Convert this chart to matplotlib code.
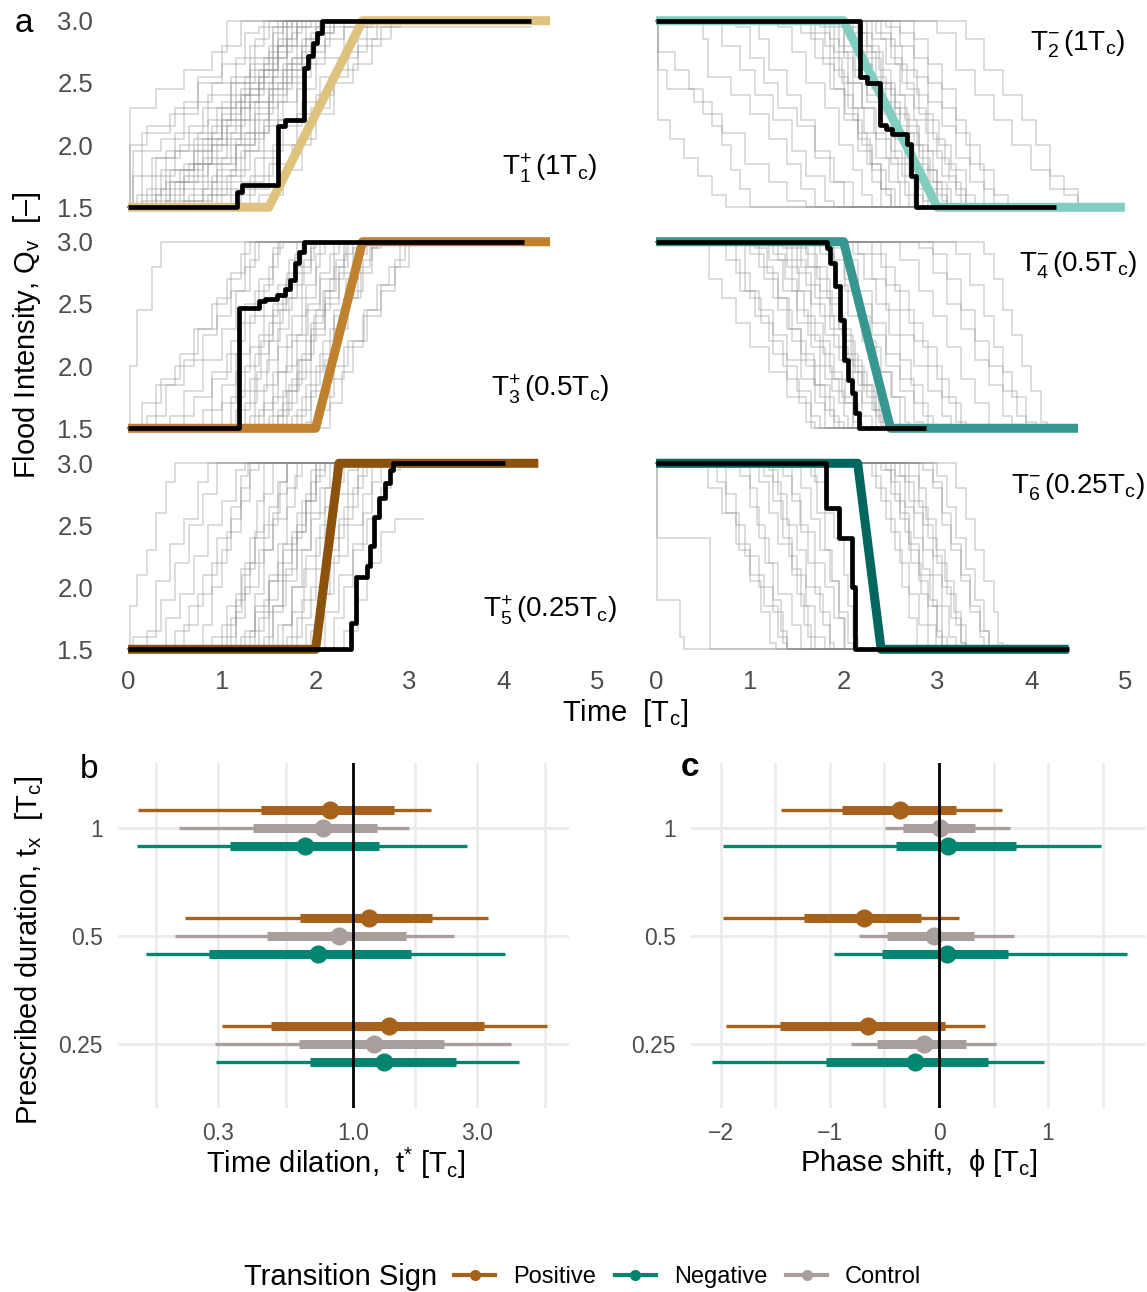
import matplotlib
matplotlib.use('Agg')
import matplotlib.pyplot as plt
from matplotlib.lines import Line2D
import numpy as np

plt.rcParams['font.family'] = ['Liberation Sans', 'DejaVu Sans']
plt.rcParams['mathtext.fontset'] = 'custom'
plt.rcParams['mathtext.rm'] = 'Liberation Sans'
plt.rcParams['mathtext.it'] = 'Liberation Sans:italic'
plt.rcParams['mathtext.bf'] = 'Liberation Sans:bold'
plt.rcParams['mathtext.sf'] = 'Liberation Sans'

# ---------------- data: panel a ----------------
ramp_T1 = [(0, 1.5), (1.5, 1.5), (2.5, 3.0), (4.5, 3.0)]
ramp_T2 = [(0, 3.0), (2.0, 3.0), (3.0, 1.5), (5.0, 1.5)]
ramp_T3 = [(0, 1.5), (2.0, 1.5), (2.5, 3.0), (4.5, 3.0)]
ramp_T4 = [(0, 3.0), (2.0, 3.0), (2.5, 1.5), (4.5, 1.5)]
ramp_T5 = [(0, 1.5), (2.0, 1.5), (2.25, 3.0), (4.375, 3.0)]
ramp_T6 = [(0, 3.0), (2.15, 3.0), (2.4, 1.5), (4.4, 1.5)]

black_T1 = [(0, 1.5), (1.16, 1.62), (1.22, 1.68), (1.60, 2.15), (1.67, 2.20), (1.88, 2.62),
            (1.92, 2.72), (1.97, 2.82), (2.02, 2.90), (2.07, 3.0), (4.3, 3.0)]
black_T2 = [(0, 3.0), (2.17, 2.55), (2.25, 2.50), (2.39, 2.16), (2.45, 2.13), (2.52, 2.09),
            (2.68, 2.01), (2.72, 1.75), (2.77, 1.5), (4.26, 1.5)]
black_T3 = [(0, 1.5), (1.185, 2.47), (1.40, 2.52), (1.46, 2.54), (1.59, 2.57), (1.67, 2.62),
            (1.73, 2.69), (1.78, 2.83), (1.82, 2.92), (1.88, 3.0), (4.22, 3.0)]
black_T4 = [(0, 3.0), (1.82, 2.95), (1.86, 2.83), (1.91, 2.64), (1.96, 2.37), (2.0, 2.05),
            (2.05, 1.89), (2.09, 1.78), (2.12, 1.62), (2.16, 1.5), (2.88, 1.5)]
black_T5 = [(0, 1.5), (2.38, 1.71), (2.43, 2.08), (2.55, 2.17), (2.58, 2.33), (2.62, 2.57),
            (2.68, 2.72), (2.74, 2.84), (2.79, 2.95), (2.83, 3.0), (4.02, 3.0)]
black_T6 = [(0, 3.0), (1.81, 2.64), (1.95, 2.40), (2.09, 2.0), (2.12, 1.5), (4.40, 1.5)]

grey_T1 = [
    [(0, 1.5), (0.02, 2.3), (0.3, 2.45), (0.6, 2.6), (0.9, 2.75), (1.05, 3.0), (2.4, 3.0)],
    [(0, 1.5), (0.05, 1.75), (0.25, 1.9), (0.5, 2.1), (0.8, 2.3), (1.1, 2.55), (1.3, 2.8), (1.45, 3.0), (2.5, 3.0)],
    [(0, 1.5), (0.3, 1.6), (0.6, 1.85), (0.9, 2.0), (1.2, 2.3), (1.4, 2.6), (1.6, 2.85), (1.75, 3.0), (2.95, 3.0)],
    [(0, 1.5), (0.5, 1.7), (0.75, 1.95), (1.0, 2.2), (1.3, 2.45), (1.55, 2.6), (1.7, 2.8), (1.9, 3.0), (2.7, 3.0)],
    [(0, 1.5), (0.15, 2.1), (0.45, 2.25), (0.75, 2.5), (1.0, 2.65), (1.25, 2.9), (1.4, 2.95), (4.3, 2.95)],
    [(0, 1.5), (0.8, 1.65), (1.1, 1.8), (1.3, 2.1), (1.5, 2.35), (1.7, 2.6), (1.85, 2.75), (2.0, 2.9), (2.2, 3.0), (2.85, 3.0)],
    [(0, 1.5), (1.0, 1.6), (1.35, 1.9), (1.6, 2.2), (1.8, 2.45), (2.0, 2.7), (2.3, 2.95), (2.6, 3.0), (2.95, 3.0)],
    [(0, 1.5), (0.2, 1.65), (0.4, 1.95), (0.65, 2.15), (0.85, 2.4), (1.1, 2.5), (1.35, 2.7), (1.55, 2.9), (1.65, 3.0), (2.6, 3.0)],
    [(0, 1.5), (0.6, 1.55), (0.9, 1.75), (1.15, 2.05), (1.45, 2.2), (1.65, 2.5), (1.9, 2.65), (2.1, 2.85), (2.3, 3.0), (2.7, 3.0)],
    [(0, 1.5), (0.1, 1.6), (0.35, 1.8), (0.7, 1.85), (0.95, 2.05), (1.2, 2.45), (1.45, 2.7), (1.7, 3.0), (2.45, 3.0)],
    [(0, 1.5), (0.45, 1.8), (0.7, 2.05), (1.0, 2.35), (1.25, 2.55), (1.5, 2.75), (1.6, 3.0), (2.55, 3.0)],
    [(0, 1.5), (0.9, 1.7), (1.2, 1.95), (1.4, 2.3), (1.6, 2.5), (1.75, 2.7), (1.9, 2.85), (2.05, 3.0), (2.75, 3.0)],
    [(0, 1.5), (0.05, 1.95), (0.35, 2.05), (0.6, 2.35), (0.9, 2.5), (1.15, 2.7), (1.35, 2.85), (1.5, 3.0), (2.35, 3.0)],
    [(0, 1.5), (1.3, 1.75), (1.55, 2.0), (1.8, 2.25), (2.0, 2.4), (2.2, 2.6), (2.45, 2.8), (2.7, 2.95), (2.9, 3.0)],
    [(0, 1.5), (0.65, 1.6), (1.0, 1.9), (1.25, 2.1), (1.5, 2.4), (1.7, 2.65), (1.95, 2.8), (2.15, 3.0), (2.65, 3.0)],
    [(0, 1.5), (0.3, 1.9), (0.55, 2.0), (0.85, 2.2), (1.1, 2.4), (1.3, 2.6), (1.55, 2.95), (1.65, 3.0), (2.5, 3.0)],
    [(0, 1.5), (1.1, 1.65), (1.5, 1.85), (1.75, 2.0), (1.95, 2.3), (2.15, 2.55), (2.35, 2.75), (2.55, 3.0), (2.95, 3.0)],
    [(0, 1.5), (0.4, 1.55), (0.8, 1.9), (1.05, 2.2), (1.35, 2.35), (1.55, 2.55), (1.8, 2.95), (1.95, 3.0), (2.4, 3.0)],
    [(0, 1.5), (0.7, 1.7), (0.95, 1.85), (1.15, 2.0), (1.35, 2.25), (1.55, 2.45), (1.75, 2.7), (1.95, 2.9), (2.05, 3.0), (2.6, 3.0)],
    [(0, 1.5), (0.35, 1.65), (0.55, 1.8), (0.8, 2.05), (1.0, 2.25), (1.2, 2.4), (1.4, 2.55), (1.6, 2.75), (1.75, 2.9), (1.85, 3.0), (2.5, 3.0)],
    [(0, 1.5), (0.25, 1.75), (0.5, 1.95), (0.75, 2.1), (0.95, 2.3), (1.15, 2.5), (1.3, 2.65), (1.5, 2.8), (1.65, 2.95), (1.75, 3.0), (2.7, 3.0)],
    [(0, 1.5), (0.85, 1.6), (1.05, 1.75), (1.25, 1.95), (1.45, 2.15), (1.6, 2.35), (1.8, 2.55), (1.95, 2.75), (2.1, 2.9), (2.2, 3.0), (2.9, 3.0)],
    [(0, 1.5), (0.55, 1.65), (0.85, 1.85), (1.1, 2.1), (1.3, 2.35), (1.5, 2.5), (1.65, 2.65), (1.85, 2.85), (2.0, 3.0), (2.8, 3.0)],
    [(0, 1.5), (0.15, 1.55), (0.45, 1.7), (0.7, 1.95), (0.9, 2.15), (1.1, 2.3), (1.3, 2.5), (1.45, 2.65), (1.6, 2.8), (1.7, 3.0), (2.3, 3.0)],
    [(0, 1.5), (1.2, 1.7), (1.45, 1.95), (1.65, 2.15), (1.85, 2.35), (2.05, 2.55), (2.25, 2.7), (2.45, 2.85), (2.65, 3.0), (2.95, 3.0)],
    [(0, 1.5), (0.95, 1.8), (1.15, 2.0), (1.35, 2.2), (1.5, 2.45), (1.65, 2.6), (1.85, 2.8), (2.0, 2.95), (2.1, 3.0), (2.55, 3.0)],
    [(0, 1.5), (0.02, 2.0), (0.2, 2.15), (0.5, 2.3), (0.75, 2.55), (1.0, 2.8), (1.2, 3.0), (2.2, 3.0)],
    [(0, 1.5), (0.6, 1.75), (0.85, 2.0), (1.05, 2.15), (1.25, 2.4), (1.45, 2.6), (1.6, 2.8), (1.8, 3.0), (2.75, 3.0)],
    [(0, 1.5), (1.4, 1.6), (1.65, 1.8), (1.85, 2.05), (2.0, 2.25), (2.2, 2.5), (2.4, 2.65), (2.6, 2.85), (2.8, 3.0), (2.95, 3.0)],
    [(0, 1.5), (0.4, 1.7), (0.65, 1.85), (0.9, 2.1), (1.15, 2.35), (1.4, 2.5), (1.55, 2.7), (1.7, 2.85), (1.8, 3.0), (2.6, 3.0)],
]
grey_T2 = [
    [(0, 3.0), (0.02, 2.6), (0.12, 2.45), (0.4, 2.35), (0.6, 2.15), (0.7, 2.0), (0.8, 1.8), (0.9, 1.65), (1.0, 1.5), (3.8, 1.5)],
    [(0, 3.0), (0.02, 2.2), (0.15, 2.05), (0.3, 1.9), (0.45, 1.75), (0.6, 1.6), (0.75, 1.5), (2.8, 1.5)],
    [(0, 3.0), (0.5, 2.85), (0.55, 2.55), (0.8, 2.4), (1.0, 2.25), (1.2, 2.05), (1.4, 1.85), (1.55, 1.65), (1.7, 1.5), (4.9, 1.5)],
    [(0, 3.0), (1.1, 2.85), (1.2, 2.6), (1.4, 2.4), (1.55, 2.2), (1.7, 1.95), (1.85, 1.7), (2.0, 1.5), (4.5, 1.5)],
    [(0, 3.0), (1.55, 2.9), (1.7, 2.7), (1.85, 2.45), (2.0, 2.2), (2.15, 1.95), (2.3, 1.7), (2.4, 1.5), (4.2, 1.5)],
    [(0, 3.0), (1.75, 2.95), (1.9, 2.75), (2.05, 2.5), (2.2, 2.3), (2.35, 2.05), (2.5, 1.85), (2.65, 1.6), (2.75, 1.5), (4.7, 1.5)],
    [(0, 3.0), (1.95, 2.8), (2.1, 2.6), (2.25, 2.4), (2.4, 2.15), (2.55, 1.9), (2.7, 1.75), (2.85, 1.55), (2.95, 1.5), (4.8, 1.5)],
    [(0, 3.0), (2.1, 2.9), (2.25, 2.7), (2.4, 2.45), (2.55, 2.25), (2.7, 2.0), (2.85, 1.8), (3.0, 1.6), (3.1, 1.5), (4.6, 1.5)],
    [(0, 3.0), (2.3, 2.85), (2.45, 2.65), (2.6, 2.4), (2.75, 2.2), (2.9, 1.95), (3.05, 1.75), (3.2, 1.6), (3.3, 1.5), (4.9, 1.5)],
    [(0, 3.0), (2.6, 2.9), (2.75, 2.7), (2.9, 2.5), (3.05, 2.3), (3.2, 2.1), (3.35, 1.85), (3.5, 1.65), (3.6, 1.5), (4.85, 1.5)],
    [(0, 3.0), (3.0, 2.9), (3.2, 2.6), (3.4, 2.4), (3.6, 2.2), (3.8, 2.0), (4.0, 1.8), (4.2, 1.65), (4.5, 1.5), (4.9, 1.5)],
    [(0, 3.0), (3.3, 2.85), (3.5, 2.6), (3.7, 2.4), (3.9, 2.2), (4.05, 2.0), (4.2, 1.75), (4.35, 1.6), (4.5, 1.5), (4.95, 1.5)],
    [(0, 3.0), (0.85, 2.95), (1.0, 2.7), (1.15, 2.5), (1.3, 2.3), (1.5, 2.15), (1.7, 1.9), (1.9, 1.7), (2.1, 1.5), (4.0, 1.5)],
    [(0, 3.0), (1.85, 2.85), (1.95, 2.55), (2.05, 2.3), (2.15, 2.1), (2.25, 1.85), (2.4, 1.65), (2.55, 1.5), (4.4, 1.5)],
    [(0, 3.0), (2.0, 2.95), (2.15, 2.8), (2.3, 2.55), (2.45, 2.35), (2.6, 2.15), (2.8, 1.95), (2.95, 1.7), (3.1, 1.5), (4.3, 1.5)],
    [(0, 3.0), (2.2, 2.75), (2.35, 2.5), (2.5, 2.3), (2.6, 2.1), (2.75, 1.85), (2.9, 1.65), (3.0, 1.5), (4.75, 1.5)],
    [(0, 3.0), (2.45, 2.95), (2.6, 2.8), (2.75, 2.55), (2.9, 2.35), (3.05, 2.15), (3.2, 1.9), (3.35, 1.7), (3.5, 1.5), (4.5, 1.5)],
    [(0, 3.0), (0.02, 2.75), (0.2, 2.6), (0.35, 2.45), (0.5, 2.25), (0.7, 2.1), (0.95, 1.85), (1.2, 1.7), (1.4, 1.55), (1.6, 1.5), (3.3, 1.5)],
    [(0, 3.0), (1.3, 2.95), (1.45, 2.75), (1.6, 2.5), (1.8, 2.3), (1.95, 2.0), (2.1, 1.8), (2.2, 1.6), (2.3, 1.5), (4.65, 1.5)],
    [(0, 3.0), (2.75, 2.85), (2.9, 2.65), (3.05, 2.45), (3.2, 2.2), (3.3, 2.0), (3.45, 1.8), (3.6, 1.6), (3.75, 1.5), (4.9, 1.5)],
    [(0, 3.0), (1.8, 2.8), (1.9, 2.6), (2.0, 2.4), (2.1, 2.2), (2.2, 2.0), (2.3, 1.8), (2.45, 1.6), (2.5, 1.5), (4.6, 1.5)],
    [(0, 3.0), (1.9, 2.95), (2.0, 2.75), (2.12, 2.55), (2.25, 2.35), (2.38, 2.15), (2.5, 1.95), (2.62, 1.75), (2.75, 1.6), (2.85, 1.5), (4.85, 1.5)],
    [(0, 3.0), (2.05, 2.85), (2.18, 2.65), (2.3, 2.45), (2.42, 2.25), (2.55, 2.05), (2.65, 1.85), (2.8, 1.65), (2.9, 1.5), (4.7, 1.5)],
    [(0, 3.0), (2.15, 2.9), (2.3, 2.75), (2.42, 2.5), (2.55, 2.3), (2.68, 2.1), (2.8, 1.9), (2.92, 1.7), (3.05, 1.55), (3.1, 1.5), (4.9, 1.5)],
    [(0, 3.0), (2.25, 2.8), (2.38, 2.6), (2.5, 2.4), (2.65, 2.2), (2.78, 2.0), (2.9, 1.8), (3.0, 1.65), (3.15, 1.5), (4.8, 1.5)],
    [(0, 3.0), (2.35, 2.9), (2.5, 2.7), (2.62, 2.5), (2.75, 2.3), (2.88, 2.1), (3.0, 1.9), (3.12, 1.7), (3.25, 1.5), (4.9, 1.5)],
    [(0, 3.0), (2.5, 2.8), (2.62, 2.6), (2.78, 2.4), (2.9, 2.2), (3.02, 2.0), (3.15, 1.8), (3.3, 1.6), (3.4, 1.5), (4.9, 1.5)],
    [(0, 3.0), (1.65, 2.85), (1.78, 2.65), (1.9, 2.45), (2.02, 2.25), (2.15, 2.05), (2.28, 1.85), (2.4, 1.65), (2.5, 1.5), (4.55, 1.5)],
    [(0, 3.0), (1.7, 2.9), (1.85, 2.7), (1.98, 2.5), (2.1, 2.3), (2.22, 2.1), (2.35, 1.9), (2.48, 1.7), (2.6, 1.5), (4.75, 1.5)],
    [(0, 3.0), (2.0, 2.7), (2.1, 2.5), (2.2, 2.3), (2.32, 2.1), (2.45, 1.9), (2.58, 1.7), (2.7, 1.5), (4.9, 1.5)],
    [(0, 3.0), (2.4, 2.85), (2.55, 2.65), (2.68, 2.45), (2.8, 2.25), (2.95, 2.05), (3.08, 1.85), (3.2, 1.65), (3.3, 1.5), (4.7, 1.5)],
    [(0, 3.0), (0.7, 2.8), (0.9, 2.6), (1.05, 2.4), (1.25, 2.2), (1.45, 1.95), (1.6, 1.75), (1.8, 1.55), (1.9, 1.5), (4.2, 1.5)],
]
grey_T3 = [
    [(0, 1.5), (0.02, 2.0), (0.1, 2.45), (0.25, 2.8), (0.35, 3.0), (2.9, 3.0)],
    [(0, 1.5), (0.15, 1.7), (0.35, 1.9), (0.55, 2.1), (0.75, 2.3), (0.95, 2.55), (1.1, 2.75), (1.25, 3.0), (3.0, 3.0)],
    [(0, 1.5), (0.6, 1.8), (0.8, 2.05), (1.0, 2.3), (1.15, 2.6), (1.3, 2.85), (1.4, 3.0), (2.6, 3.0)],
    [(0, 1.5), (1.1, 1.75), (1.25, 2.0), (1.4, 2.25), (1.55, 2.5), (1.7, 2.75), (1.85, 3.0), (2.95, 3.0)],
    [(0, 1.5), (1.3, 1.6), (1.45, 1.85), (1.6, 2.15), (1.75, 2.4), (1.9, 2.65), (2.0, 2.9), (2.1, 3.0), (2.8, 3.0)],
    [(0, 1.5), (1.45, 1.7), (1.6, 1.95), (1.75, 2.2), (1.9, 2.45), (2.05, 2.7), (2.2, 3.0), (3.0, 3.0)],
    [(0, 1.5), (1.6, 1.65), (1.75, 1.9), (1.9, 2.2), (2.0, 2.45), (2.15, 2.7), (2.3, 2.9), (2.4, 3.0), (2.9, 3.0)],
    [(0, 1.5), (1.75, 1.6), (1.9, 1.85), (2.05, 2.1), (2.2, 2.4), (2.35, 2.6), (2.5, 2.85), (2.6, 3.0), (2.95, 3.0)],
    [(0, 1.5), (1.85, 1.75), (2.0, 2.0), (2.15, 2.3), (2.3, 2.55), (2.45, 2.75), (2.6, 2.95), (2.7, 3.0), (3.0, 3.0)],
    [(0, 1.5), (0.3, 1.85), (0.5, 2.0), (0.7, 2.3), (0.9, 2.5), (1.05, 2.7), (1.2, 2.9), (1.3, 3.0), (2.7, 3.0)],
    [(0, 1.5), (1.2, 1.8), (1.35, 2.1), (1.5, 2.35), (1.65, 2.55), (1.8, 2.8), (1.95, 3.0), (2.85, 3.0)],
    [(0, 1.5), (1.5, 1.6), (1.65, 1.8), (1.8, 2.05), (1.95, 2.3), (2.1, 2.55), (2.25, 2.8), (2.35, 3.0), (3.0, 3.0)],
    [(0, 1.5), (2.0, 1.65), (2.15, 1.9), (2.3, 2.15), (2.5, 2.4), (2.7, 2.6), (2.85, 2.8), (3.0, 3.0)],
    [(0, 1.5), (0.9, 1.9), (1.05, 2.1), (1.2, 2.35), (1.35, 2.6), (1.5, 2.8), (1.6, 3.0), (2.95, 3.0)],
    [(0, 1.5), (1.4, 1.65), (1.55, 1.95), (1.7, 2.25), (1.85, 2.55), (2.0, 2.8), (2.05, 3.0), (2.75, 3.0)],
    [(0, 1.5), (1.65, 1.7), (1.8, 1.95), (1.95, 2.25), (2.1, 2.5), (2.25, 2.75), (2.4, 2.95), (2.5, 3.0), (2.9, 3.0)],
    [(0, 1.5), (0.45, 1.6), (0.7, 1.75), (0.9, 1.95), (1.1, 2.2), (1.25, 2.5), (1.4, 2.7), (1.55, 2.95), (1.65, 3.0), (2.65, 3.0)],
    [(0, 1.5), (1.9, 1.55), (2.05, 1.75), (2.2, 2.0), (2.35, 2.2), (2.55, 2.45), (2.7, 2.65), (2.85, 2.85), (2.95, 3.0), (3.0, 3.0)],
    [(0, 1.5), (1.25, 1.7), (1.38, 1.95), (1.5, 2.2), (1.62, 2.45), (1.75, 2.65), (1.88, 2.85), (1.98, 3.0), (2.9, 3.0)],
    [(0, 1.5), (1.35, 1.8), (1.48, 2.05), (1.6, 2.3), (1.72, 2.55), (1.85, 2.75), (1.95, 2.95), (2.0, 3.0), (2.85, 3.0)],
    [(0, 1.5), (1.55, 1.75), (1.68, 2.0), (1.8, 2.25), (1.92, 2.5), (2.05, 2.75), (2.15, 2.9), (2.25, 3.0), (2.95, 3.0)],
    [(0, 1.5), (1.7, 1.8), (1.82, 2.05), (1.95, 2.35), (2.08, 2.6), (2.2, 2.8), (2.3, 3.0), (3.0, 3.0)],
    [(0, 1.5), (1.8, 1.65), (1.95, 1.95), (2.08, 2.2), (2.2, 2.45), (2.32, 2.7), (2.45, 2.9), (2.55, 3.0), (3.0, 3.0)],
    [(0, 1.5), (1.0, 1.7), (1.15, 1.95), (1.3, 2.15), (1.45, 2.4), (1.6, 2.65), (1.72, 2.85), (1.8, 3.0), (2.8, 3.0)],
    [(0, 1.5), (1.15, 1.65), (1.3, 1.9), (1.42, 2.2), (1.55, 2.45), (1.68, 2.7), (1.78, 2.9), (1.9, 3.0), (2.7, 3.0)],
    [(0, 1.5), (1.95, 1.8), (2.1, 2.05), (2.22, 2.3), (2.35, 2.55), (2.48, 2.8), (2.58, 2.95), (2.65, 3.0), (3.0, 3.0)],
    [(0, 1.5), (0.8, 1.65), (1.0, 1.85), (1.15, 2.1), (1.3, 2.4), (1.45, 2.65), (1.55, 2.9), (1.62, 3.0), (2.9, 3.0)],
    [(0, 1.5), (1.6, 1.6), (1.72, 1.85), (1.85, 2.1), (1.98, 2.4), (2.1, 2.6), (2.22, 2.85), (2.32, 3.0), (2.95, 3.0)],
    [(0, 1.5), (0.2, 1.6), (0.4, 1.85), (0.6, 2.05), (0.8, 2.25), (0.95, 2.4), (1.1, 2.6), (1.25, 2.8), (1.35, 3.0), (2.5, 3.0)],
    [(0, 1.5), (2.15, 1.7), (2.28, 1.95), (2.4, 2.2), (2.52, 2.45), (2.65, 2.65), (2.78, 2.8), (2.9, 3.0), (3.0, 3.0)],
]
grey_T4 = [
    [(0, 3.0), (0.56, 2.7), (0.7, 2.55), (0.85, 2.35), (1.0, 2.15), (1.2, 1.95), (1.4, 1.75), (1.6, 1.55), (1.7, 1.5), (3.6, 1.5)],
    [(0, 3.0), (0.75, 2.85), (0.9, 2.6), (1.05, 2.4), (1.2, 2.2), (1.35, 2.0), (1.5, 1.8), (1.65, 1.6), (1.75, 1.5), (3.9, 1.5)],
    [(0, 3.0), (1.0, 2.9), (1.15, 2.7), (1.3, 2.45), (1.45, 2.2), (1.6, 2.0), (1.75, 1.75), (1.9, 1.55), (2.0, 1.5), (4.1, 1.5)],
    [(0, 3.0), (1.2, 2.85), (1.35, 2.6), (1.5, 2.35), (1.65, 2.15), (1.8, 1.9), (1.95, 1.7), (2.1, 1.5), (4.15, 1.5)],
    [(0, 3.0), (1.35, 2.95), (1.5, 2.75), (1.65, 2.5), (1.8, 2.25), (1.95, 2.05), (2.1, 1.8), (2.2, 1.6), (2.3, 1.5), (3.8, 1.5)],
    [(0, 3.0), (1.55, 2.8), (1.7, 2.55), (1.85, 2.3), (2.0, 2.1), (2.15, 1.85), (2.3, 1.65), (2.4, 1.5), (4.0, 1.5)],
    [(0, 3.0), (1.75, 2.9), (1.9, 2.65), (2.05, 2.4), (2.2, 2.2), (2.35, 1.95), (2.5, 1.75), (2.6, 1.5), (4.17, 1.5)],
    [(0, 3.0), (2.0, 2.85), (2.15, 2.6), (2.3, 2.35), (2.45, 2.1), (2.6, 1.9), (2.75, 1.7), (2.9, 1.5), (4.1, 1.5)],
    [(0, 3.0), (2.3, 2.9), (2.45, 2.65), (2.6, 2.45), (2.75, 2.2), (2.9, 2.0), (3.05, 1.75), (3.2, 1.55), (3.3, 1.5), (4.15, 1.5)],
    [(0, 3.0), (2.6, 2.85), (2.8, 2.6), (2.95, 2.4), (3.1, 2.15), (3.25, 1.9), (3.4, 1.7), (3.55, 1.5), (4.17, 1.5)],
    [(0, 3.0), (3.2, 2.9), (3.35, 2.65), (3.5, 2.4), (3.6, 2.15), (3.7, 1.95), (3.8, 1.75), (3.95, 1.55), (4.05, 1.5), (4.17, 1.5)],
    [(0, 3.0), (1.1, 2.8), (1.25, 2.55), (1.4, 2.3), (1.55, 2.05), (1.7, 1.85), (1.85, 1.6), (1.95, 1.5), (3.5, 1.5)],
    [(0, 3.0), (1.45, 2.85), (1.6, 2.65), (1.75, 2.4), (1.9, 2.15), (2.05, 1.95), (2.2, 1.7), (2.35, 1.5), (4.05, 1.5)],
    [(0, 3.0), (1.85, 2.95), (2.0, 2.7), (2.15, 2.5), (2.3, 2.25), (2.45, 2.0), (2.6, 1.8), (2.75, 1.55), (2.85, 1.5), (4.17, 1.5)],
    [(0, 3.0), (2.15, 2.9), (2.3, 2.7), (2.45, 2.45), (2.6, 2.25), (2.75, 2.0), (2.9, 1.8), (3.05, 1.6), (3.15, 1.5), (3.95, 1.5)],
    [(0, 3.0), (2.8, 2.95), (2.95, 2.75), (3.1, 2.5), (3.25, 2.3), (3.4, 2.05), (3.55, 1.85), (3.7, 1.6), (3.8, 1.5), (4.17, 1.5)],
    [(0, 3.0), (3.5, 2.9), (3.6, 2.7), (3.7, 2.45), (3.8, 2.25), (3.9, 2.0), (4.0, 1.8), (4.1, 1.55), (4.17, 1.5)],
    [(0, 3.0), (0.95, 2.6), (1.1, 2.45), (1.25, 2.25), (1.4, 2.05), (1.55, 1.9), (1.7, 1.7), (1.8, 1.5), (3.3, 1.5)],
    [(0, 3.0), (1.05, 2.95), (1.18, 2.75), (1.3, 2.55), (1.42, 2.3), (1.55, 2.1), (1.68, 1.85), (1.8, 1.65), (1.9, 1.5), (3.7, 1.5)],
    [(0, 3.0), (1.25, 2.9), (1.38, 2.7), (1.5, 2.45), (1.62, 2.25), (1.75, 2.0), (1.88, 1.8), (2.0, 1.6), (2.05, 1.5), (4.0, 1.5)],
    [(0, 3.0), (1.4, 2.8), (1.52, 2.6), (1.65, 2.35), (1.78, 2.1), (1.9, 1.9), (2.02, 1.7), (2.15, 1.5), (3.9, 1.5)],
    [(0, 3.0), (1.6, 2.9), (1.72, 2.7), (1.85, 2.5), (1.98, 2.25), (2.1, 2.0), (2.22, 1.8), (2.35, 1.6), (2.42, 1.5), (4.1, 1.5)],
    [(0, 3.0), (1.7, 2.8), (1.82, 2.55), (1.95, 2.3), (2.08, 2.05), (2.2, 1.85), (2.32, 1.65), (2.45, 1.5), (4.17, 1.5)],
    [(0, 3.0), (1.9, 2.85), (2.02, 2.6), (2.15, 2.4), (2.28, 2.15), (2.4, 1.95), (2.52, 1.75), (2.65, 1.55), (2.7, 1.5), (4.0, 1.5)],
    [(0, 3.0), (2.1, 2.9), (2.22, 2.7), (2.35, 2.5), (2.48, 2.25), (2.6, 2.05), (2.72, 1.85), (2.85, 1.6), (2.95, 1.5), (4.17, 1.5)],
    [(0, 3.0), (2.4, 2.8), (2.55, 2.6), (2.7, 2.35), (2.85, 2.15), (3.0, 1.9), (3.12, 1.7), (3.25, 1.5), (4.1, 1.5)],
    [(0, 3.0), (0.85, 2.75), (1.0, 2.55), (1.12, 2.35), (1.25, 2.1), (1.4, 1.9), (1.52, 1.7), (1.65, 1.5), (3.4, 1.5)],
    [(0, 3.0), (1.5, 2.95), (1.62, 2.8), (1.75, 2.6), (1.88, 2.4), (2.0, 2.2), (2.12, 1.95), (2.25, 1.75), (2.38, 1.55), (2.45, 1.5), (4.17, 1.5)],
    [(0, 3.0), (2.95, 2.9), (3.1, 2.7), (3.25, 2.45), (3.4, 2.2), (3.55, 2.0), (3.7, 1.8), (3.85, 1.6), (3.95, 1.5), (4.17, 1.5)],
    [(0, 3.0), (1.3, 2.85), (1.45, 2.6), (1.58, 2.4), (1.7, 2.2), (1.85, 1.95), (1.98, 1.75), (2.1, 1.55), (2.2, 1.5), (3.85, 1.5)],
]
grey_T5 = [
    [(0, 1.5), (0.02, 1.85), (0.1, 2.1), (0.2, 2.3), (0.3, 2.6), (0.4, 2.85), (0.5, 3.0), (2.5, 3.0)],
    [(0, 1.5), (0.2, 1.65), (0.35, 1.9), (0.5, 2.2), (0.65, 2.5), (0.8, 2.75), (0.95, 3.0), (2.7, 3.0)],
    [(0, 1.5), (0.6, 1.7), (0.75, 1.95), (0.9, 2.2), (1.05, 2.45), (1.2, 2.7), (1.3, 2.95), (1.4, 3.0), (2.6, 3.0)],
    [(0, 1.5), (0.9, 1.6), (1.05, 1.85), (1.2, 2.15), (1.35, 2.4), (1.5, 2.65), (1.6, 2.85), (1.7, 3.0), (2.8, 3.0)],
    [(0, 1.5), (1.1, 1.75), (1.25, 2.0), (1.4, 2.3), (1.55, 2.55), (1.7, 2.8), (1.8, 3.0), (2.65, 3.0)],
    [(0, 1.5), (1.3, 1.65), (1.45, 1.9), (1.6, 2.2), (1.75, 2.45), (1.9, 2.7), (2.0, 2.95), (2.1, 3.0), (2.9, 3.0)],
    [(0, 1.5), (1.5, 1.8), (1.65, 2.05), (1.8, 2.3), (1.95, 2.6), (2.1, 2.8), (2.2, 3.0), (3.0, 3.0)],
    [(0, 1.5), (1.7, 1.6), (1.85, 1.9), (2.0, 2.15), (2.15, 2.4), (2.3, 2.65), (2.45, 2.9), (2.55, 3.0), (3.0, 3.0)],
    [(0, 1.5), (1.9, 1.7), (2.05, 1.95), (2.2, 2.25), (2.35, 2.5), (2.5, 2.75), (2.6, 3.0), (2.95, 3.0)],
    [(0, 1.5), (2.1, 1.8), (2.25, 2.1), (2.4, 2.35), (2.55, 2.55), (2.7, 2.8), (2.8, 2.95), (2.9, 3.0), (3.05, 3.0)],
    [(0, 1.5), (0.4, 1.75), (0.55, 1.95), (0.7, 2.25), (0.85, 2.5), (1.0, 2.7), (1.15, 2.95), (1.25, 3.0), (2.45, 3.0)],
    [(0, 1.5), (1.0, 1.7), (1.15, 1.95), (1.3, 2.2), (1.45, 2.5), (1.6, 2.75), (1.7, 3.0), (2.75, 3.0)],
    [(0, 1.5), (1.35, 1.85), (1.5, 2.05), (1.65, 2.35), (1.8, 2.6), (1.95, 2.85), (2.05, 3.0), (2.85, 3.0)],
    [(0, 1.5), (1.6, 1.7), (1.75, 2.0), (1.9, 2.25), (2.05, 2.5), (2.2, 2.75), (2.35, 2.95), (2.45, 3.0), (3.1, 3.0)],
    [(0, 1.5), (2.3, 1.65), (2.45, 1.9), (2.55, 2.2), (2.7, 2.45), (2.85, 2.55), (3.15, 2.55)],
    [(0, 1.5), (0.05, 1.6), (0.3, 2.05), (0.45, 2.35), (0.6, 2.55), (0.75, 2.85), (0.85, 3.0), (2.6, 3.0)],
    [(0, 1.5), (1.2, 1.6), (1.35, 1.8), (1.5, 2.1), (1.65, 2.3), (1.8, 2.5), (1.9, 2.75), (2.0, 3.0), (2.7, 3.0)],
    [(0, 1.5), (1.8, 1.75), (1.95, 2.0), (2.1, 2.3), (2.25, 2.55), (2.4, 2.8), (2.5, 3.0), (2.9, 3.0)],
    [(0, 1.5), (1.15, 1.8), (1.22, 2.1), (1.3, 2.4), (1.38, 2.7), (1.45, 3.0), (2.7, 3.0)],
    [(0, 1.5), (1.25, 1.65), (1.35, 1.95), (1.45, 2.3), (1.55, 2.6), (1.62, 2.85), (1.7, 3.0), (2.8, 3.0)],
    [(0, 1.5), (1.4, 1.75), (1.5, 2.05), (1.6, 2.35), (1.7, 2.65), (1.78, 2.9), (1.85, 3.0), (2.6, 3.0)],
    [(0, 1.5), (1.55, 1.85), (1.65, 2.1), (1.75, 2.4), (1.85, 2.7), (1.95, 2.95), (2.0, 3.0), (2.95, 3.0)],
    [(0, 1.5), (1.65, 1.7), (1.75, 2.0), (1.85, 2.3), (1.95, 2.55), (2.05, 2.8), (2.15, 3.0), (2.85, 3.0)],
    [(0, 1.5), (1.75, 1.8), (1.88, 2.15), (2.0, 2.4), (2.1, 2.65), (2.2, 2.85), (2.3, 3.0), (3.05, 3.0)],
    [(0, 1.5), (1.95, 1.65), (2.05, 1.95), (2.15, 2.2), (2.25, 2.5), (2.35, 2.75), (2.45, 3.0), (3.0, 3.0)],
    [(0, 1.5), (2.2, 1.75), (2.3, 2.0), (2.4, 2.3), (2.5, 2.6), (2.6, 2.85), (2.7, 3.0), (3.1, 3.0)],
    [(0, 1.5), (0.8, 1.7), (0.9, 2.0), (1.0, 2.3), (1.1, 2.55), (1.2, 2.8), (1.3, 3.0), (2.55, 3.0)],
    [(0, 1.5), (1.05, 1.6), (1.15, 1.9), (1.25, 2.2), (1.35, 2.45), (1.45, 2.75), (1.55, 3.0), (2.75, 3.0)],
    [(0, 1.5), (1.45, 1.6), (1.55, 1.85), (1.68, 2.15), (1.8, 2.45), (1.9, 2.7), (2.0, 2.9), (2.1, 3.0), (2.9, 3.0)],
    [(0, 1.5), (0.5, 1.65), (0.65, 1.85), (0.8, 2.1), (0.95, 2.4), (1.1, 2.65), (1.2, 2.9), (1.28, 3.0), (2.4, 3.0)],
]
grey_T6 = [
    [(0, 3.0), (0.01, 1.9), (0.26, 1.6), (0.3, 1.5), (3.7, 1.5)],
    [(0, 3.0), (0.01, 2.4), (0.57, 1.5), (3.6, 1.5)],
    [(0, 3.0), (0.55, 2.8), (0.7, 2.6), (0.85, 2.35), (1.0, 2.1), (1.15, 1.85), (1.3, 1.6), (1.4, 1.5), (3.5, 1.5)],
    [(0, 3.0), (0.9, 2.9), (1.0, 2.65), (1.1, 2.4), (1.2, 2.2), (1.3, 1.95), (1.45, 1.7), (1.55, 1.5), (3.7, 1.5)],
    [(0, 3.0), (1.1, 2.85), (1.2, 2.6), (1.3, 2.35), (1.45, 2.1), (1.6, 1.85), (1.7, 1.6), (1.8, 1.5), (3.65, 1.5)],
    [(0, 3.0), (1.35, 2.9), (1.45, 2.7), (1.55, 2.45), (1.7, 2.2), (1.8, 2.0), (1.9, 1.75), (2.0, 1.5), (3.7, 1.5)],
    [(0, 3.0), (1.55, 2.8), (1.65, 2.55), (1.75, 2.3), (1.85, 2.05), (1.95, 1.8), (2.05, 1.55), (2.1, 1.5), (3.55, 1.5)],
    [(0, 3.0), (2.3, 2.9), (2.4, 2.7), (2.5, 2.45), (2.6, 2.2), (2.7, 1.95), (2.8, 1.7), (2.9, 1.5), (3.7, 1.5)],
    [(0, 3.0), (2.5, 2.85), (2.6, 2.6), (2.7, 2.35), (2.8, 2.1), (2.95, 1.85), (3.05, 1.6), (3.1, 1.5), (3.7, 1.5)],
    [(0, 3.0), (2.7, 2.9), (2.8, 2.65), (2.9, 2.4), (3.0, 2.2), (3.1, 1.95), (3.2, 1.7), (3.3, 1.5), (3.7, 1.5)],
    [(0, 3.0), (2.95, 2.85), (3.05, 2.6), (3.15, 2.35), (3.25, 2.1), (3.35, 1.85), (3.45, 1.65), (3.55, 1.5), (3.7, 1.5)],
    [(0, 3.0), (3.2, 2.8), (3.3, 2.55), (3.4, 2.3), (3.5, 2.05), (3.6, 1.8), (3.65, 1.55), (3.7, 1.5)],
    [(0, 3.0), (0.75, 2.75), (0.85, 2.5), (0.95, 2.25), (1.1, 2.0), (1.25, 1.8), (1.35, 1.55), (1.4, 1.5), (3.6, 1.5)],
    [(0, 3.0), (1.2, 2.95), (1.3, 2.75), (1.4, 2.5), (1.5, 2.3), (1.6, 2.0), (1.75, 1.8), (1.85, 1.55), (1.9, 1.5), (3.7, 1.5)],
    [(0, 3.0), (2.4, 2.95), (2.5, 2.75), (2.6, 2.55), (2.7, 2.3), (2.8, 2.05), (2.9, 1.85), (3.0, 1.6), (3.05, 1.5), (3.65, 1.5)],
    [(0, 3.0), (2.6, 2.9), (2.7, 2.7), (2.85, 2.5), (2.95, 2.25), (3.05, 2.0), (3.15, 1.75), (3.25, 1.55), (3.3, 1.5), (3.7, 1.5)],
    [(0, 3.0), (1.7, 2.85), (1.8, 2.6), (1.9, 2.4), (2.0, 2.1), (2.05, 1.85), (2.1, 1.6), (2.15, 1.5), (3.6, 1.5)],
    [(0, 3.0), (2.85, 2.95), (2.95, 2.8), (3.05, 2.5), (3.15, 2.3), (3.25, 2.05), (3.35, 1.8), (3.45, 1.6), (3.5, 1.5), (3.7, 1.5)],
    [(0, 3.0), (1.0, 2.8), (1.08, 2.5), (1.16, 2.2), (1.25, 1.9), (1.33, 1.65), (1.4, 1.5), (3.6, 1.5)],
    [(0, 3.0), (1.25, 2.85), (1.33, 2.55), (1.42, 2.25), (1.5, 1.95), (1.58, 1.7), (1.65, 1.5), (3.7, 1.5)],
    [(0, 3.0), (1.45, 2.75), (1.53, 2.5), (1.62, 2.2), (1.7, 1.95), (1.78, 1.7), (1.85, 1.5), (3.65, 1.5)],
    [(0, 3.0), (1.65, 2.9), (1.72, 2.6), (1.8, 2.3), (1.88, 2.05), (1.95, 1.75), (2.02, 1.5), (3.7, 1.5)],
    [(0, 3.0), (2.35, 2.8), (2.45, 2.55), (2.55, 2.3), (2.62, 2.0), (2.7, 1.75), (2.78, 1.5), (3.7, 1.5)],
    [(0, 3.0), (2.55, 2.9), (2.65, 2.65), (2.75, 2.4), (2.85, 2.15), (2.92, 1.9), (3.0, 1.65), (3.05, 1.5), (3.7, 1.5)],
    [(0, 3.0), (2.8, 2.8), (2.88, 2.55), (2.98, 2.3), (3.08, 2.05), (3.18, 1.8), (3.25, 1.55), (3.3, 1.5), (3.7, 1.5)],
    [(0, 3.0), (3.0, 2.9), (3.1, 2.65), (3.2, 2.4), (3.3, 2.15), (3.4, 1.9), (3.5, 1.65), (3.55, 1.5), (3.7, 1.5)],
    [(0, 3.0), (0.65, 2.85), (0.75, 2.6), (0.88, 2.3), (1.0, 2.05), (1.12, 1.8), (1.22, 1.55), (1.28, 1.5), (3.5, 1.5)],
    [(0, 3.0), (2.45, 2.95), (2.55, 2.7), (2.65, 2.45), (2.72, 2.2), (2.82, 1.95), (2.9, 1.7), (2.98, 1.5), (3.7, 1.5)],
    [(0, 3.0), (2.65, 2.85), (2.75, 2.6), (2.85, 2.3), (2.95, 2.1), (3.05, 1.85), (3.12, 1.6), (3.2, 1.5), (3.7, 1.5)],
    [(0, 3.0), (1.15, 2.9), (1.25, 2.7), (1.35, 2.4), (1.45, 2.15), (1.55, 1.85), (1.62, 1.6), (1.7, 1.5), (3.6, 1.5)],
]

panel_labels = [r'$\mathrm{T}_{1}^{+}\,(1\mathrm{T_{c}})$',
                r'$\mathrm{T}_{2}^{-}\,(1\mathrm{T_{c}})$',
                r'$\mathrm{T}_{3}^{+}\,(0.5\mathrm{T_{c}})$',
                r'$\mathrm{T}_{4}^{-}\,(0.5\mathrm{T_{c}})$',
                r'$\mathrm{T}_{5}^{+}\,(0.25\mathrm{T_{c}})$',
                r'$\mathrm{T}_{6}^{-}\,(0.25\mathrm{T_{c}})$']
panel_colors = ['#DFC27D', '#80CDC1', '#BF812D', '#35978F', '#8C510A', '#01665E']

# ---------------- data: panels b, c ----------------
durations = ['1', '0.5', '0.25']
signs = ['Positive', 'Negative', 'Control']
sign_colors = {'Positive': '#A6611A', 'Negative': '#018571', 'Control': '#A89F9C'}

dil_pos_med = [0.81, 1.15, 1.37]
dil_pos_q25 = [0.44, 0.62, 0.48]
dil_pos_q75 = [1.44, 2.02, 3.21]
dil_pos_lo = [0.148, 0.223, 0.312]
dil_pos_hi = [1.99, 3.30, 5.60]
dil_ctl_med = [0.765, 0.882, 1.198]
dil_ctl_q25 = [0.41, 0.466, 0.617]
dil_ctl_q75 = [1.239, 1.599, 2.234]
dil_ctl_lo = [0.213, 0.204, 0.293]
dil_ctl_hi = [1.645, 2.457, 4.053]
dil_neg_med = [0.649, 0.731, 1.312]
dil_neg_q25 = [0.334, 0.278, 0.678]
dil_neg_q75 = [1.251, 1.673, 2.489]
dil_neg_lo = [0.146, 0.158, 0.296]
dil_neg_hi = [2.757, 3.846, 4.37]

ph_pos_med = [-0.358, -0.688, -0.652]
ph_pos_q25 = [-0.886, -1.238, -1.458]
ph_pos_q75 = [0.154, -0.166, 0.051]
ph_pos_lo = [-1.445, -1.98, -1.951]
ph_pos_hi = [0.576, 0.179, 0.419]
ph_ctl_med = [0.01, -0.045, -0.134]
ph_ctl_q25 = [-0.333, -0.476, -0.566]
ph_ctl_q75 = [0.329, 0.320, 0.249]
ph_ctl_lo = [-0.492, -0.736, -0.806]
ph_ctl_hi = [0.649, 0.688, 0.521]
ph_neg_med = [0.08, 0.074, -0.221]
ph_neg_q25 = [-0.397, -0.524, -1.036]
ph_neg_q75 = [0.704, 0.633, 0.448]
ph_neg_lo = [-1.98, -0.959, -2.079]
ph_neg_hi = [1.481, 1.721, 0.959]

# ---------------- figure ----------------
W, H = 1147, 1292
fig = plt.figure(figsize=(W / 100, H / 100), dpi=100)


def ax_px(x0, y0, x1, y1):
    return fig.add_axes([x0 / W, 1 - y1 / H, (x1 - x0) / W, (y1 - y0) / H])


TICK_FS = 16.5
TOP_TICK_FS = 18.5
TITLE_FS = 21
TICK_COL = '#4D4D4D'

top_rows = [(11.4, 216.6), (232.4, 437.6), (454.0, 658.6)]
top_cols = [(114, 611), (642, 1139)]
greys = [grey_T1, grey_T2, grey_T3, grey_T4, grey_T5, grey_T6]
blacks = [black_T1, black_T2, black_T3, black_T4, black_T5, black_T6]
ramps = [ramp_T1, ramp_T2, ramp_T3, ramp_T4, ramp_T5, ramp_T6]

for i in range(6):
    r, c = divmod(i, 2)
    ax = ax_px(top_cols[c][0], top_rows[r][0], top_cols[c][1], top_rows[r][1])
    for tr in greys[i]:
        t, v = zip(*tr)
        ax.plot(t, v, drawstyle='steps-post', color='#8C8C8C', alpha=0.33, lw=1.3, zorder=1)
    t, v = zip(*ramps[i])
    ax.plot(t, v, color=panel_colors[i], lw=6.5, solid_capstyle='butt', solid_joinstyle='round', zorder=2)
    t, v = zip(*blacks[i])
    ax.plot(t, v, drawstyle='steps-post', color='black', lw=3.4, solid_capstyle='butt', zorder=3)
    ax.text(4.5, 1.81 if c == 0 else 2.81, panel_labels[i], ha='center', va='center', fontsize=20)
    ax.set_xlim(-0.15, 5.15)
    ax.set_ylim(1.425, 3.075)
    for s in ax.spines.values():
        s.set_visible(False)
    ax.set_yticks([1.5, 2.0, 2.5, 3.0])
    ax.set_xticks([0, 1, 2, 3, 4, 5])
    ax.tick_params(length=0, labelsize=TOP_TICK_FS, labelcolor=TICK_COL, pad=15)
    if c == 0:
        ax.set_yticklabels(['1.5', '2.0', '2.5', '3.0'])
    else:
        ax.set_yticklabels([])
    if r == 2:
        ax.set_xticklabels(['0', '1', '2', '3', '4', '5'])
    else:
        ax.set_xticklabels([])
    ax.tick_params(axis='x', pad=8)
    ax.set_facecolor('none')

fig.text(24 / W, 1 - 23 / H, 'a', fontsize=24, ha='center', va='center')
fig.text(27 / W, 1 - 335 / H, r'Flood Intensity, $\mathrm{Q_{v}}$  [–]', rotation=90,
         fontsize=TITLE_FS, ha='center', va='center')
fig.text(625 / W, 1 - 713 / H, r'Time  [$\mathrm{T_{c}}$]', fontsize=TITLE_FS, ha='center', va='center')

# ---------------- panels b and c ----------------
cat_pos = {'1': 3, '0.5': 2, '0.25': 1}
offsets = {'Positive': 0.167, 'Control': 0.0, 'Negative': -0.167}
dil = {'Positive': (dil_pos_med, dil_pos_q25, dil_pos_q75, dil_pos_lo, dil_pos_hi),
       'Control': (dil_ctl_med, dil_ctl_q25, dil_ctl_q75, dil_ctl_lo, dil_ctl_hi),
       'Negative': (dil_neg_med, dil_neg_q25, dil_neg_q75, dil_neg_lo, dil_neg_hi)}
ph = {'Positive': (ph_pos_med, ph_pos_q25, ph_pos_q75, ph_pos_lo, ph_pos_hi),
      'Control': (ph_ctl_med, ph_ctl_q25, ph_ctl_q75, ph_ctl_lo, ph_ctl_hi),
      'Negative': (ph_neg_med, ph_neg_q25, ph_neg_q75, ph_neg_lo, ph_neg_hi)}

axb = ax_px(118, 763.3, 569, 1108.3)
axc = ax_px(691, 763.3, 1146, 1108.3)

GRID = '#EBEBEB'
axb.set_xscale('log')
axb.set_xlim(0.1234, 6.805)
axc.set_xlim(-2.274, 1.898)
for ax in (axb, axc):
    ax.set_ylim(0.4, 3.6)
    for s in ax.spines.values():
        s.set_visible(False)
    ax.set_yticks([1, 2, 3])
    ax.set_yticklabels(['0.25', '0.5', '1'])
    for y in [1, 2, 3]:
        ax.axhline(y, color=GRID, lw=2.0, zorder=0)
    ax.tick_params(length=0, labelsize=TICK_FS, labelcolor=TICK_COL)
    ax.tick_params(axis='y', pad=11)
    ax.tick_params(axis='x', pad=10)
    ax.minorticks_off()

for xv in [0.173, 0.3, 0.548, 1.0, 1.73, 3.0, 5.48]:
    axb.axvline(xv, color=GRID, lw=1.8, zorder=0)
axb.set_xticks([0.3, 1.0, 3.0])
axb.set_xticklabels(['0.3', '1.0', '3.0'])
axb.minorticks_off()
for xv in [-2, -1.5, -1, -0.5, 0, 0.5, 1, 1.5]:
    axc.axvline(xv, color=GRID, lw=1.8, zorder=0)
axc.set_xticks([-2, -1, 0, 1])
axc.set_xticklabels(['\u22122', '\u22121', '0', '1'])

for ax, data in ((axb, dil), (axc, ph)):
    for sgn in ['Positive', 'Control', 'Negative']:
        med, q25, q75, lo, hi = data[sgn]
        col = sign_colors[sgn]
        for k, d in enumerate(durations):
            y = cat_pos[d] + offsets[sgn]
            ax.plot([lo[k], hi[k]], [y, y], color=col, lw=2.4, solid_capstyle='butt', zorder=3)
            ax.plot([q25[k], q75[k]], [y, y], color=col, lw=6.5, solid_capstyle='butt', zorder=4)
            ax.plot([med[k]], [y], 'o', color=col, ms=13, mec='none', zorder=5)
axb.axvline(1.0, color='black', lw=2.0, zorder=6)
axc.axvline(0.0, color='black', lw=2.0, zorder=6)

fig.text(89 / W, 1 - 769 / H, 'b', fontsize=24, ha='center', va='center')
fig.text(690 / W, 1 - 768 / H, 'c', fontsize=24, ha='center', va='center', fontweight='bold')
fig.text(29 / W, 1 - 950 / H, r'Prescribed duration, $\mathrm{t_{x}}$  [$\mathrm{T_{c}}$]',
         rotation=90, fontsize=TITLE_FS, ha='center', va='center')
fig.text(336 / W, 1 - 1163 / H, r'Time dilation,  $\mathrm{t^{*}}$ [$\mathrm{T_{c}}$]',
         fontsize=TITLE_FS, ha='center', va='center')
fig.text(919 / W, 1 - 1163 / H, 'Phase shift,  \u03d5 [$\\mathrm{T_{c}}$]',
         fontsize=TITLE_FS, ha='center', va='center')

# ---------------- legend ----------------
fig.text(244 / W, 1 - 1277 / H, 'Transition Sign', fontsize=TITLE_FS, ha='left', va='center')
handles = [Line2D([0], [0], color=sign_colors[s], lw=3, marker='o', ms=8, mec='none') for s in signs]
fig.legend(handles, signs, loc='center left', bbox_to_anchor=(454 / W, 1 - 1277 / H), ncol=3,
           frameon=False, fontsize=17, handlelength=1.75, handletextpad=0.75, columnspacing=0.8,
           borderaxespad=0, borderpad=0)

fig.savefig('out.png', dpi=100)
